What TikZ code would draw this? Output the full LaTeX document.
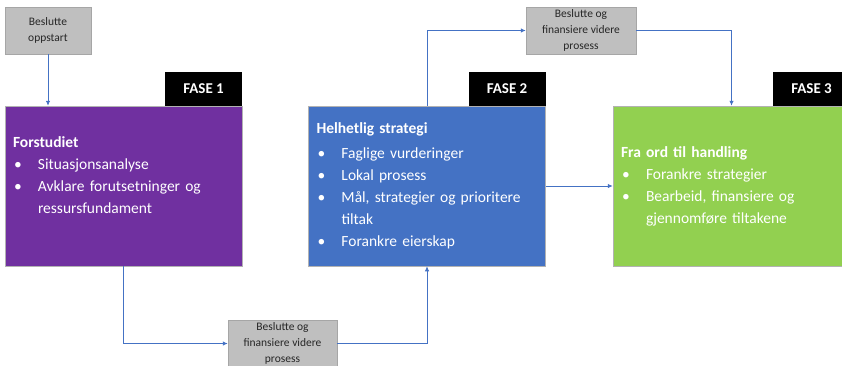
\documentclass[tikz,border=0pt]{standalone}
\usepackage{fontspec}
\setmainfont{Carlito}
\usetikzlibrary{arrows.meta,positioning}
\definecolor{fiolett}{HTML}{7030A0}
\definecolor{blaa}{HTML}{4472C4}
\definecolor{groenn}{HTML}{92D050}
\definecolor{graa}{HTML}{BFBFBF}
\definecolor{pilfarge}{HTML}{4472C4}
\newcommand{\punkt}[1]{\par\hangindent=25pt\hangafter=1\noindent\makebox[25pt][l]{\hspace{1pt}\textbullet}#1}

\tikzset{
  fase/.style={fill=black,text=white,font=\fontsize{15}{17}\selectfont\bfseries,minimum width=77pt,minimum height=34pt,inner sep=0pt,anchor=south east},
  beslutt/.style={fill=graa,draw=black!35,line width=0.5pt,minimum height=47pt,inner sep=1pt,align=center,font=\fontsize{11.5}{16}\selectfont,text=black!85},
  hovedboks/.style={draw=black!30,line width=0.5pt,minimum width=237pt,minimum height=160pt,text width=221pt,inner sep=8pt,align=left,text=white,font=\fontsize{15.5}{22}\selectfont},
  pil/.style={draw=pilfarge,line width=0.8pt,-{Latex[length=5pt,width=4.5pt]}}
}

\begin{document}
\begin{tikzpicture}[x=1pt,y=-1pt]
\useasboundingbox (0,0) rectangle (842,365);

\node[beslutt,minimum width=86pt] (oppstart) at (48,30.5) {Beslutte\\oppstart};
\node[beslutt,minimum width=110pt] (vedtak3) at (581,30.5) {Beslutte og\\finansiere videre\\prosess};
\node[beslutt,minimum width=109pt] (vedtak2) at (282.5,343.5) {Beslutte og\\finansiere videre\\prosess};

\node[hovedboks,fill=fiolett] (forstudiet) at (123.5,186) {\textbf{Forstudiet}
  \punkt{Situasjonsanalyse}
  \punkt{Avklare forutsetninger og\newline ressursfundament}
  \par\mbox{}\par};
\node[hovedboks,fill=blaa] (strategi) at (427,186) {\vspace{3pt}\textbf{Helhetlig strategi}
  \punkt{Faglige vurderinger}
  \punkt{Lokal prosess}
  \punkt{Mål, strategier og prioritere\newline tiltak}
  \punkt{Forankre eierskap}\par};
\node[hovedboks,fill=groenn] (handling) at (731.5,186) {\textbf{Fra ord til handling}
  \punkt{Forankre strategier}
  \punkt{Bearbeid, finansiere og\newline gjennomføre tiltakene}\par};

\node[fase] (fase1) at (forstudiet.north east) {FASE 1};
\node[fase] (fase2) at (strategi.north east) {FASE 2};
\node[fase] (fase3) at (handling.north east) {FASE 3};

\draw[pil] (oppstart.south) -- (forstudiet.north -| oppstart.south);
\draw[pil] (forstudiet.south) |- (vedtak2.west);
\draw[pil] (vedtak2.east) -| (strategi.south);
\draw[pil] (strategi.north) |- (vedtak3.west);
\draw[pil] (vedtak3.east) -| (handling.north);
\draw[pil] (strategi.east) -- (handling.west);
\end{tikzpicture}
\end{document}
